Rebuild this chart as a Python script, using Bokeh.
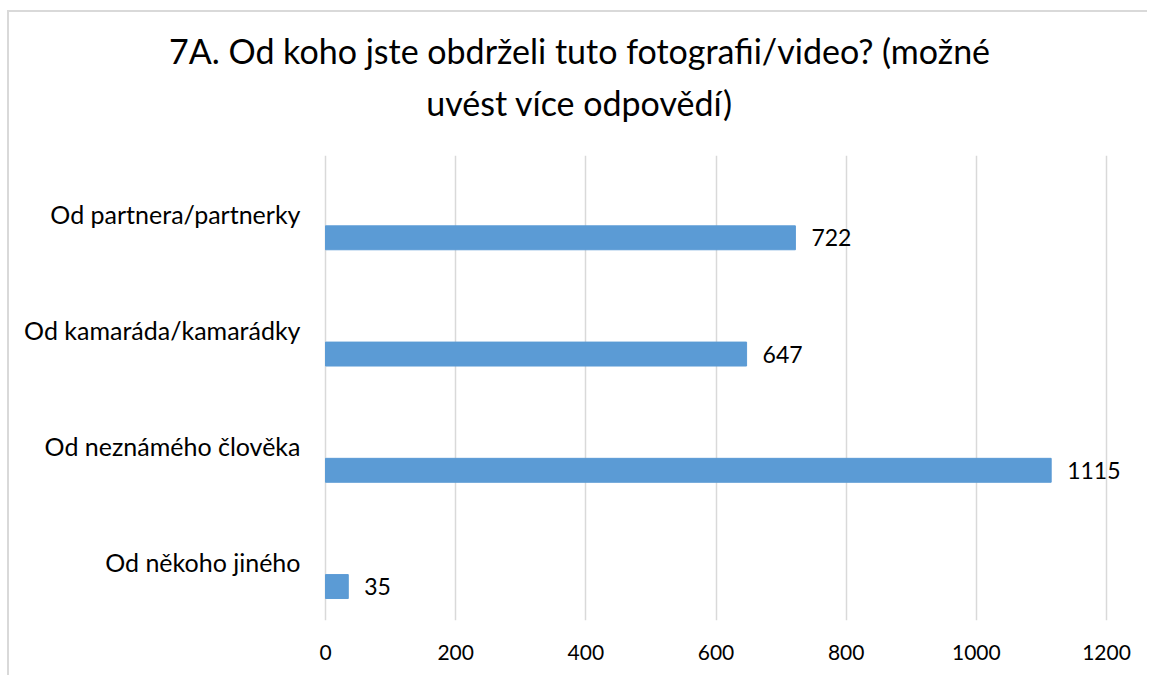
from bokeh.plotting import figure
from bokeh.models import FactorRange, Range1d, ColumnDataSource, Title
from bokeh.transform import dodge
from bokeh.core.properties import value
from bokeh.embed import file_html
from bokeh.resources import INLINE

categories = ["Od partnera/partnerky", "Od kamaráda/kamarádky", "Od neznámého člověka", "Od někoho jiného"]
counts = [722, 647, 1115, 35]
x_ticks = [0, 200, 400, 600, 800, 1000, 1200]
title_lines = ["7A. Od koho jste obdrželi tuto fotografii/video? (možné", "uvést více odpovědí)"]

FONT = "Lato"
PX_PER_UNIT = (1106 - 325) / 1200.0

p = figure(width=1140, height=665,
           y_range=FactorRange(factors=categories[::-1]),
           x_range=Range1d(-(325 - 9) / PX_PER_UNIT, 1200 + (1149 - 1106) / PX_PER_UNIT),
           y_axis_location=None,
           output_backend="svg", toolbar_location=None,
           min_border_left=0, min_border_right=0,
           min_border_top=143, min_border_bottom=57)
p.styles = {"margin-left": "7px", "margin-top": "10px",
            "border-top": "2px solid #d9d9d9", "border-left": "2px solid #d9d9d9"}
p.outline_line_color = None

src = ColumnDataSource(dict(cat=categories, val=counts, lbl=[str(v) for v in counts]))

p.hbar(y=dodge("cat", -0.208, range=p.y_range), left=0, right="val", height=0.206,
       source=src, fill_color="#5b9bd5", line_color="#5b9bd5")
p.text(x="val", y=dodge("cat", -0.208, range=p.y_range), text="lbl", source=src,
       x_offset=16, text_align="left", text_baseline="middle",
       text_font=value(FONT), text_font_size="23px", text_color="#000000")
# category labels (right-aligned left of the value axis origin)
p.text(x=0, y="cat", text="cat", source=src,
       x_offset=-25, text_align="right", text_baseline="middle",
       text_font=value(FONT), text_font_size="25px", text_color="#000000")

p.xaxis.ticker = x_ticks
p.xgrid.ticker = x_ticks
p.xgrid.grid_line_color = "#d9d9d9"
p.xgrid.grid_line_width = 1.5
p.ygrid.visible = False

p.xaxis.axis_line_color = None
p.xaxis.major_tick_line_color = None
p.xaxis.minor_tick_line_color = None
p.xaxis.major_label_text_font = FONT
p.xaxis.major_label_text_color = "#000000"
p.xaxis.major_label_text_font_size = "21px"
p.xaxis.major_label_standoff = 18

t2 = Title(text=title_lines[1], align="center", text_font=FONT, text_font_size="34px",
           text_font_style="normal", text_color="#000000", standoff=66)
t1 = Title(text=title_lines[0], align="center", text_font=FONT, text_font_size="34px",
           text_font_style="normal", text_color="#000000", standoff=-48)
p.add_layout(t2, "above")
p.add_layout(t1, "above")

open("out.html", "w").write(file_html(p, INLINE))
